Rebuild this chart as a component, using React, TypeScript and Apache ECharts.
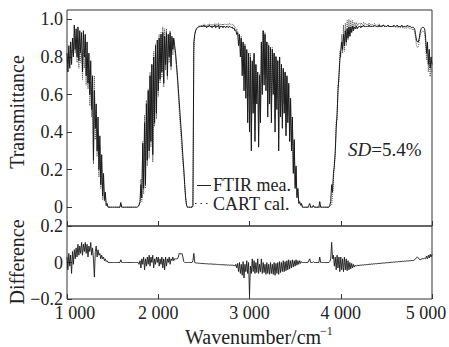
import React, { useEffect, useRef } from "react";
import * as echarts from "echarts";

// Wavenumber grid (cm^-1): 1000 .. 5000, step 10
const START = 1000;
const STEP = 10;

const ftirMea: number[] = [
  0.82, 0.72, 0.86, 0.74, 0.88, 0.76, 0.90, 0.80, 0.97, 0.84, 0.95, 0.80, 0.96, 0.78, 0.94, 0.82, 0.93, 0.72, 0.94, 0.80,
  0.92, 0.70, 0.88, 0.66, 0.82, 0.60, 0.78, 0.52, 0.70, 0.25, 0.62, 0.42, 0.55, 0.30, 0.48, 0.20, 0.38, 0.12, 0.28, 0.06,
  0.18, 0.04, 0.08, 0.01, 0.02, 0, 0, 0, 0, 0, 0, 0, 0, 0, 0, 0, 0, 0, 0, 0.025,
  0, 0, 0, 0, 0, 0, 0, 0, 0, 0, 0, 0, 0, 0, 0, 0, 0, 0, 0.005, 0.01,
  0.03, 0.12, 0.05, 0.34, 0.10, 0.45, 0.12, 0.55, 0.25, 0.62, 0.30, 0.70, 0.35, 0.76, 0.28, 0.80, 0.45, 0.86, 0.50, 0.89,
  0.62, 0.90, 0.68, 0.92, 0.72, 0.93, 0.66, 0.91, 0.76, 0.93, 0.70, 0.92, 0.80, 0.93, 0.75, 0.91, 0.84, 0.90, 0.86, 0.82,
  0.76, 0.70, 0.63, 0.56, 0.49, 0.42, 0.35, 0.27, 0.20, 0.12, 0.05, 0.01, 0, 0, 0, 0, 0, 0, 0.01, 0.88,
  0.92, 0.94, 0.95, 0.955, 0.96, 0.96, 0.965, 0.96, 0.965, 0.96, 0.97, 0.96, 0.965, 0.955, 0.965, 0.96, 0.97, 0.96, 0.965, 0.955,
  0.965, 0.96, 0.97, 0.955, 0.965, 0.96, 0.97, 0.95, 0.965, 0.96, 0.965, 0.955, 0.965, 0.96, 0.955, 0.965, 0.96, 0.955, 0.965, 0.96,
  0.955, 0.96, 0.95, 0.955, 0.94, 0.945, 0.92, 0.93, 0.86, 0.92, 0.80, 0.90, 0.70, 0.88, 0.62, 0.86, 0.58, 0.84, 0.45, 0.82,
  0.40, 0.80, 0.30, 0.78, 0.50, 0.82, 0.35, 0.76, 0.55, 0.72, 0.32, 0.70, 0.45, 0.88, 0.60, 0.94, 0.65, 0.92, 0.62, 0.88,
  0.48, 0.86, 0.55, 0.85, 0.45, 0.84, 0.60, 0.82, 0.40, 0.80, 0.52, 0.78, 0.30, 0.80, 0.48, 0.76, 0.42, 0.74, 0.50, 0.72,
  0.38, 0.70, 0.45, 0.66, 0.35, 0.58, 0.30, 0.48, 0.18, 0.36, 0.10, 0.22, 0.05, 0.10, 0.02, 0.03, 0.01, 0.02, 0, 0,
  0, 0, 0, 0, 0, 0.01, 0.02, 0, 0, 0, 0.01, 0, 0, 0, 0, 0, 0, 0.03, 0, 0,
  0, 0, 0, 0, 0, 0, 0, 0, 0.01, 0.03, 0.12, 0.08, 0.18, 0.22, 0.30, 0.42, 0.50, 0.62, 0.70, 0.78,
  0.83, 0.88, 0.84, 0.92, 0.86, 0.94, 0.88, 0.95, 0.90, 0.96, 0.91, 0.96, 0.93, 0.965, 0.94, 0.96, 0.95, 0.965, 0.95, 0.96,
  0.96, 0.965, 0.955, 0.965, 0.96, 0.97, 0.96, 0.965, 0.96, 0.965, 0.96, 0.97, 0.96, 0.965, 0.96, 0.965, 0.96, 0.97, 0.965, 0.96,
  0.965, 0.96, 0.97, 0.96, 0.965, 0.96, 0.965, 0.97, 0.96, 0.965, 0.96, 0.965, 0.97, 0.96, 0.965, 0.96, 0.965, 0.96, 0.97, 0.965,
  0.96, 0.965, 0.97, 0.96, 0.965, 0.96, 0.965, 0.97, 0.96, 0.965, 0.96, 0.965, 0.96, 0.97, 0.965, 0.96, 0.965, 0.96, 0.955, 0.96,
  0.955, 0.95, 0.92, 0.89, 0.88, 0.88, 0.90, 0.93, 0.95, 0.955, 0.96, 0.955, 0.95, 0.90, 0.82, 0.88, 0.76, 0.84, 0.74, 0.80,
  0.76,
];

const difference: number[] = [
  0.03, -0.04, 0.05, -0.02, 0.04, -0.06, 0.06, -0.01, 0.07, 0.02, 0.08, 0.03, 0.10, 0.04, 0.09, 0.05, 0.11, 0.04, 0.10, 0.06,
  0.11, 0.05, 0.10, 0.03, 0.09, 0.06, 0.11, 0.04, 0.08, 0.02, -0.08, 0.06, 0.09, 0.03, 0.07, 0.04, 0.05, 0.02, 0.04, 0.02,
  0.03, 0.01, 0.02, 0.005, 0.01, 0, 0, 0, 0, 0, 0, 0, 0, 0, 0, 0, 0, 0, 0, 0.015,
  0, 0, 0, 0, 0, 0, 0, 0, 0, 0, 0, 0, 0, 0, 0, 0, 0, 0, 0, -0.01,
  0.01, -0.03, 0.02, -0.01, 0.03, -0.04, 0.02, -0.02, 0.03, -0.01, 0.04, -0.02, 0.03, 0, 0.04, -0.03, 0.02, -0.01, 0.03, 0,
  0.03, -0.02, 0.02, -0.01, 0.03, -0.03, 0.02, -0.04, 0.03, -0.02, 0.02, 0, 0.03, -0.01, 0.02, 0.01, 0.03, 0.01, 0.02, 0.02,
  0.02, 0.02, 0.03, 0.05, 0.05, 0.045, 0.05, 0.03, 0.005, 0, 0, 0, 0, 0, 0, 0, 0, 0, 0.01, 0.05,
  0, -0.002, -0.003, -0.003, -0.004, -0.004, -0.005, -0.005, -0.005, -0.006, -0.006, -0.006, -0.007, -0.007, -0.007, -0.008, -0.008, -0.008, -0.008, -0.009,
  -0.009, -0.01, -0.009, -0.01, -0.011, -0.01, -0.011, -0.012, -0.011, -0.012, -0.012, -0.013, -0.012, -0.013, -0.014, -0.013, -0.014, -0.014, -0.015, -0.014,
  -0.015, -0.014, -0.016, -0.015, -0.02, -0.01, -0.03, -0.005, -0.05, 0, -0.06, -0.01, -0.07, 0.005, -0.085, -0.01, -0.05, 0.01, -0.06, 0,
  -0.18, -0.02, -0.06, 0.02, -0.05, 0.01, -0.06, 0, -0.055, 0.02, -0.06, -0.01, -0.05, 0.02, -0.06, 0, -0.055, -0.01, -0.065, 0,
  -0.06, -0.01, -0.065, 0, -0.06, -0.01, -0.065, 0, -0.07, -0.005, -0.06, 0, -0.065, 0.005, -0.055, 0, -0.05, 0.01, -0.05, 0.005,
  -0.045, 0.01, -0.04, 0.015, -0.035, 0.01, -0.03, 0.015, -0.025, 0.01, -0.02, 0.015, -0.015, 0.01, -0.01, 0.01, -0.005, 0.005, 0, 0,
  0, 0, 0, 0, 0, 0.01, 0.02, 0, 0, 0, 0.005, 0, 0, 0, 0, 0, 0, 0.03, 0, 0,
  0, 0, 0, 0, 0, 0, 0, 0, 0.005, 0.02, 0.11, 0.02, 0.04, -0.02, 0.03, -0.04, 0.04, -0.03, 0.03, -0.05,
  0.03, -0.04, 0.02, -0.05, 0.03, -0.04, 0.02, -0.045, 0.01, -0.04, 0, -0.035, -0.005, -0.03, -0.01, -0.025, -0.015, -0.02, -0.015, -0.018,
  -0.015, -0.016, -0.014, -0.015, -0.013, -0.014, -0.012, -0.013, -0.011, -0.012, -0.01, -0.011, -0.009, -0.01, -0.008, -0.009, -0.007, -0.008, -0.006, -0.007,
  -0.006, -0.005, -0.006, -0.004, -0.005, -0.003, -0.004, -0.002, -0.003, -0.002, -0.001, -0.002, 0, -0.001, 0.001, 0, 0.002, 0.001, 0.003, 0.002,
  0.003, 0.004, 0.003, 0.005, 0.004, 0.006, 0.005, 0.006, 0.007, 0.006, 0.008, 0.007, 0.008, 0.009, 0.008, 0.01, 0.009, 0.01, 0.011, 0.01,
  0.012, 0.015, 0.02, 0.028, 0.03, 0.025, 0.018, 0.015, 0.018, 0.02, 0.022, 0.02, 0.025, 0.02, 0.035, 0.02, 0.04, 0.025, 0.045, 0.03,
  0.045,
];

const xTickValues = [1000, 2000, 3000, 4000, 5000];
const xTickLabels = ["1 000", "2 000", "3 000", "4 000", "5 000"];
const topTickValues = [0, 0.2, 0.4, 0.6, 0.8, 1.0];
const topTickLabels = ["0", "0.2", "0.4", "0.6", "0.8", "1.0"];
const botTickValues = [-0.2, 0, 0.2];
const botTickLabels = ["\u22120.2", "0", "0.2"];

const FONT = "'Liberation Serif', 'Times New Roman', serif";
const INK = "#222";

export default function App() {
  const ref = useRef<HTMLDivElement>(null);

  useEffect(() => {
    if (!ref.current) return;
    const chart = echarts.init(ref.current, undefined, { renderer: "svg" });

    const wn = ftirMea.map((_, i) => START + i * STEP);
    const meaData = wn.map((w, i) => [w, ftirMea[i]]);
    // CART calculated = measured - difference
    const calData = wn.map((w, i) => [w, +(ftirMea[i] - difference[i]).toFixed(4)]);
    const diffData = wn.map((w, i) => [w, difference[i]]);

    const labelFor = (vals: number[], labels: string[]) => (v: number) => {
      const k = vals.findIndex((t) => Math.abs(t - v) < 1e-6);
      return k >= 0 ? labels[k] : "";
    };
    const xLabel = (v: number) => {
      const k = xTickValues.findIndex((t) => Math.abs(t - v) < 1e-6);
      if (k < 0) return "";
      if (k === 0) return `{first|${xTickLabels[k]}}`;
      if (k === xTickLabels.length - 1) return `{last|${xTickLabels[k]}}`;
      return xTickLabels[k];
    };

    const axisText = { fontFamily: FONT, color: INK };
    const tickStyle = { show: true, inside: true, length: 5, lineStyle: { color: "#333", width: 1 } };
    const noLine = { show: false, onZero: false };

    chart.setOption({
      animation: false,
      backgroundColor: "#fff",
      grid: [
        { left: 67, top: 10, width: 365, height: 216, containLabel: false, outerBoundsMode: "none", show: true, borderColor: "#333", borderWidth: 1, backgroundColor: "transparent" },
        { left: 67, top: 226, width: 365, height: 73, containLabel: false, outerBoundsMode: "none", show: true, borderColor: "#333", borderWidth: 1, backgroundColor: "transparent" },
      ],
      xAxis: [
        {
          gridIndex: 0, type: "value", min: 1000, max: 5000, interval: 1000, position: "bottom",
          axisLine: noLine, axisTick: tickStyle,
          axisLabel: { show: false }, splitLine: { show: false },
        },
        {
          gridIndex: 1, type: "value", min: 1000, max: 5000, interval: 1000, position: "bottom",
          axisLine: noLine, axisTick: tickStyle,
          axisLabel: {
            ...axisText, fontSize: 18, lineHeight: 16, margin: 6, formatter: xLabel,
            rich: {
              first: { fontFamily: FONT, fontSize: 18, color: INK, lineHeight: 16, padding: [0, 0, 0, 16] },
              last: { fontFamily: FONT, fontSize: 18, color: INK, lineHeight: 16, padding: [0, 12, 0, 0] },
            },
          },
          splitLine: { show: false },
        },
      ],
      yAxis: [
        {
          gridIndex: 0, type: "value", min: -0.1, max: 1.05, position: "left",
          axisLine: noLine,
          axisTick: { ...tickStyle, customValues: topTickValues },
          axisLabel: { ...axisText, fontSize: 18, lineHeight: 15, margin: 4, customValues: topTickValues, formatter: labelFor(topTickValues, topTickLabels) },
          splitLine: { show: false },
        },
        {
          gridIndex: 1, type: "value", min: -0.2, max: 0.2, interval: 0.2, position: "left",
          axisLine: noLine, axisTick: tickStyle,
          axisLabel: { ...axisText, fontSize: 18, lineHeight: 15, margin: 4, formatter: labelFor(botTickValues, botTickLabels) },
          splitLine: { show: false },
        },
      ],
      series: [
        {
          name: "CART cal.", type: "line", xAxisIndex: 0, yAxisIndex: 0, data: calData,
          symbol: "none", showSymbol: false,
          lineStyle: { type: "dotted", width: 1, color: "#555" },
        },
        {
          name: "FTIR mea.", type: "line", xAxisIndex: 0, yAxisIndex: 0, data: meaData,
          symbol: "none", showSymbol: false,
          lineStyle: { width: 1, color: "#1a1a1a" },
        },
        {
          name: "Difference", type: "line", xAxisIndex: 1, yAxisIndex: 1, data: diffData,
          symbol: "none", showSymbol: false,
          lineStyle: { width: 0.9, color: "#1a1a1a" },
        },
      ],
      graphic: [
        { type: "text", x: 17, y: 112, rotation: Math.PI / 2, style: { text: "Transmittance", font: `20px ${FONT}`, fill: INK, align: "center", verticalAlign: "middle" } },
        { type: "text", x: 17, y: 262, rotation: Math.PI / 2, style: { text: "Difference", font: `20px ${FONT}`, fill: INK, align: "center", verticalAlign: "middle" } },
        { type: "text", x: 185, y: 337, style: { text: "Wavenumber/cm", font: `20px ${FONT}`, fill: INK, align: "left", verticalAlign: "middle", lineHeight: 18 } },
        { type: "text", x: 320, y: 331, style: { text: "\u22121", font: `12px ${FONT}`, fill: INK, align: "left", verticalAlign: "middle", lineHeight: 12 } },
        { type: "line", shape: { x1: 197, y1: 185.5, x2: 211, y2: 185.5 }, style: { stroke: INK, lineWidth: 1 } },
        { type: "text", x: 213, y: 185, style: { text: "FTIR mea.", font: `18px ${FONT}`, fill: INK, align: "left", verticalAlign: "middle", lineHeight: 15 } },
        { type: "line", shape: { x1: 195, y1: 203.5, x2: 211, y2: 203.5 }, style: { stroke: INK, lineWidth: 1.2, lineDash: [1.5, 4] } },
        { type: "text", x: 213, y: 203.5, style: { text: "CART cal.", font: `18px ${FONT}`, fill: INK, align: "left", verticalAlign: "middle", lineHeight: 15 } },
        {
          type: "text", x: 348, y: 149,
          style: {
            text: "{i|SD}=5.4%", font: `19px ${FONT}`, fill: INK, align: "left", verticalAlign: "middle",
            rich: { i: { fontStyle: "italic", fontFamily: FONT, fontSize: 19, fill: INK } },
          },
        },
      ],
    });

    return () => chart.dispose();
  }, []);

  return (
    <div
      ref={ref}
      style={{ position: "fixed", left: 0, top: 0, width: 449, height: 347, background: "#fff" }}
    />
  );
}
